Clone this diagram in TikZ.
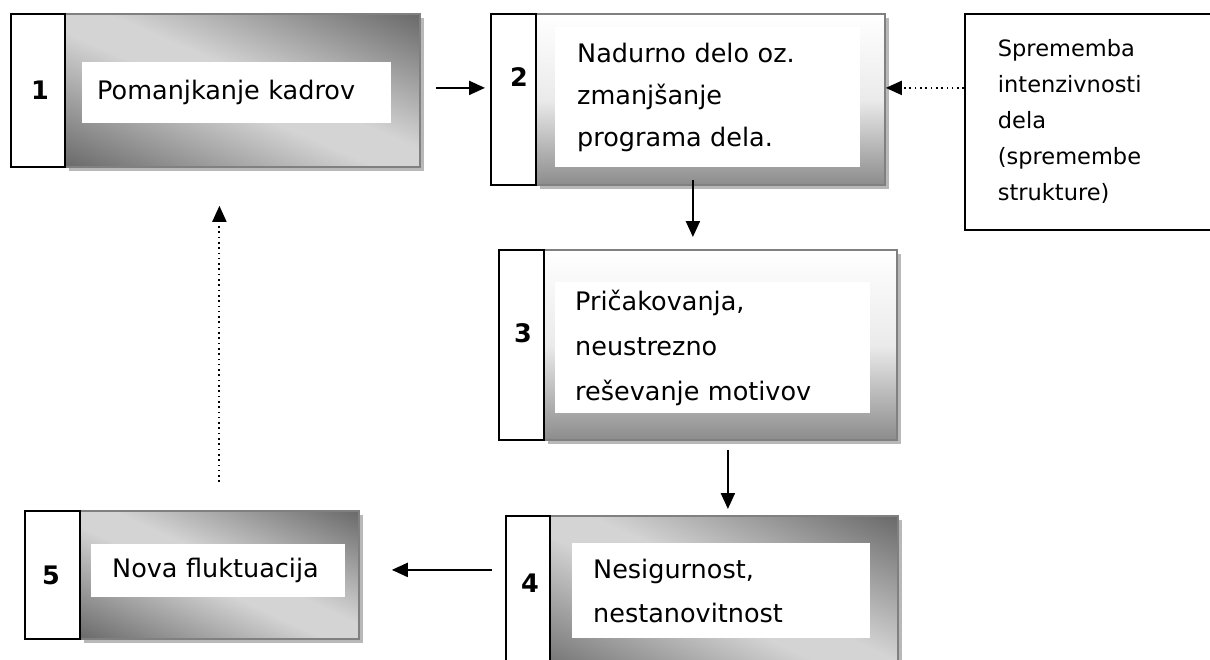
\documentclass[tikz,border=0pt]{standalone}
\usepackage{fontspec}
\setmainfont{DejaVu Sans}
\usetikzlibrary{arrows.meta,shadows}
\definecolor{boxdark}{gray}{0.41}
\definecolor{boxlight}{gray}{0.83}
\definecolor{boxedge}{gray}{0.50}
\pgfdeclarehorizontalshading{diagband}{100bp}{color(0bp)=(boxdark); color(25bp)=(boxdark);
  color(47bp)=(boxlight); color(53bp)=(boxlight); color(75bp)=(boxdark); color(100bp)=(boxdark)}
\tikzset{
  panel/.style={draw=boxedge, line width=1.8pt, anchor=north west, inner sep=0pt,
    drop shadow={shadow xshift=4pt, shadow yshift=-4pt, fill=black!28, opacity=1}},
  diagshade/.style 2 args={fill=boxlight, path picture={
    \pgftransformshift{\pgfpointanchor{path picture bounding box}{center}}
    \pgftransformcm{#1}{#2}{#1}{-#2}{\pgfpointorigin}
    \pgflowlevelsynccm
    \pgfuseshading{diagband}}},
  vertshade/.style={top color=white, bottom color=black!45, middle color=black!8},
  numstrip/.style={draw=black, line width=1.8pt, fill=white, anchor=north west, inner sep=0pt},
  numlbl/.style={font=\fontsize{25.5}{30}\selectfont\bfseries},
  txtbox/.style={fill=white, anchor=north west, align=left, inner ysep=0pt, font=\fontsize{25.5}{43}\selectfont},
  arr/.style={line width=2.2pt, -{Triangle[length=16pt,width=14pt]}},
  dotarr/.style={line width=2pt, dash pattern=on 1.6pt off 3.7pt, -{Triangle[length=16pt,width=14pt]}},
}

\begin{document}
\begin{tikzpicture}[x=1pt,y=-1pt]
  \clip (0,0) rectangle (1210,659);
  \fill[white] (0,0) rectangle (1210,659);

  % box 1
  \node[panel,diagshade={7.1}{3.06},minimum width=355pt,minimum height=153pt] (s1) at (64,13) {};
  \node[numstrip,minimum width=54pt,minimum height=153pt] (n1) at (10,13) {};
  \node[txtbox,text width=279pt,inner xsep=15pt,minimum height=61pt] (t1) at (82,62) {Pomanjkanje kadrov};
  \node[numlbl] (num1) at (40,90) {1};

  % box 2
  \node[panel,vertshade,minimum width=349pt,minimum height=171pt] (s2) at (535,13) {};
  \node[numstrip,minimum width=45pt,minimum height=171pt] (n2) at (490,13) {};
  \node[txtbox,text width=261pt,inner xsep=22pt,minimum height=140pt,font=\fontsize{25.5}{42}\selectfont] (t2) at (555,27)
    {Nadurno delo oz.\\zmanjšanje\\programa dela.};
  \node[numlbl] (num2) at (519,77) {2};

  % side box
  \node[draw,line width=1.8pt,anchor=north west,align=left,text width=300pt,inner xsep=33pt,inner ysep=0pt,
    minimum height=216pt,font=\fontsize{22.5}{36}\selectfont] (side) at (964,13)
    {Sprememba\\intenzivnosti\\dela\\(spremembe\\strukture)};

  % box 3
  \node[panel,vertshade,minimum width=353pt,minimum height=190pt] (s3) at (543,249) {};
  \node[numstrip,minimum width=45pt,minimum height=190pt] (n3) at (498,249) {};
  \node[txtbox,text width=275pt,inner xsep=20pt,minimum height=131pt,font=\fontsize{25.5}{45}\selectfont] (t3) at (555,282)
    {Pričakovanja,\\neustrezno\\reševanje motivov};
  \node[numlbl] (num3) at (523,333) {3};

  % box 4
  \node[panel,diagshade={6.96}{3.3},minimum width=348pt,minimum height=165pt] (s4) at (549,515) {};
  \node[numstrip,minimum width=44pt,minimum height=165pt] (n4) at (505,515) {};
  \node[txtbox,text width=256pt,inner xsep=21pt,minimum height=95pt,font=\fontsize{25.5}{44}\selectfont] (t4) at (572,543)
    {Nesigurnost,\\nestanovitnost};
  \node[numlbl] (num4) at (530,583) {4};

  % box 5
  \node[panel,diagshade={5.58}{2.56},minimum width=279pt,minimum height=128pt] (s5) at (79,510) {};
  \node[numstrip,minimum width=55pt,minimum height=128pt] (n5) at (24,510) {};
  \node[txtbox,text width=212pt,inner xsep=21pt,minimum height=53pt] (t5) at (91,544) {Nova fluktuacija};
  \node[numlbl] (num5) at (51,575) {5};

  % arrows
  \coordinate (a1) at ([yshift=2.5pt]s1.east);
  \coordinate (a2) at ([xshift=-17.5pt]s2.south);
  \coordinate (a3) at ([xshift=7.5pt]s3.south);
  \coordinate (a4) at ([yshift=5pt]s5.east);
  \coordinate (a5) at ([yshift=34pt]side.west);
  \draw[arr,shorten <=15pt,shorten >=5pt] (a1) -- (a1 -| n2.west);
  \draw[arr,shorten <=-6pt,shorten >=12pt] (a2) -- (a2 |- s3.north);
  \draw[arr,shorten <=9pt,shorten >=6pt] (a3) -- (a3 |- s4.north);
  \draw[arr,shorten <=13pt,shorten >=32pt] (a4 -| n4.west) -- (a4);
  \draw[dotarr,shorten <=28pt,shorten >=38pt] (s5.north) -- (s5.north |- s1.south);
  \draw[dotarr] (a5) -- (a5 -| s2.east);
\end{tikzpicture}
\end{document}
